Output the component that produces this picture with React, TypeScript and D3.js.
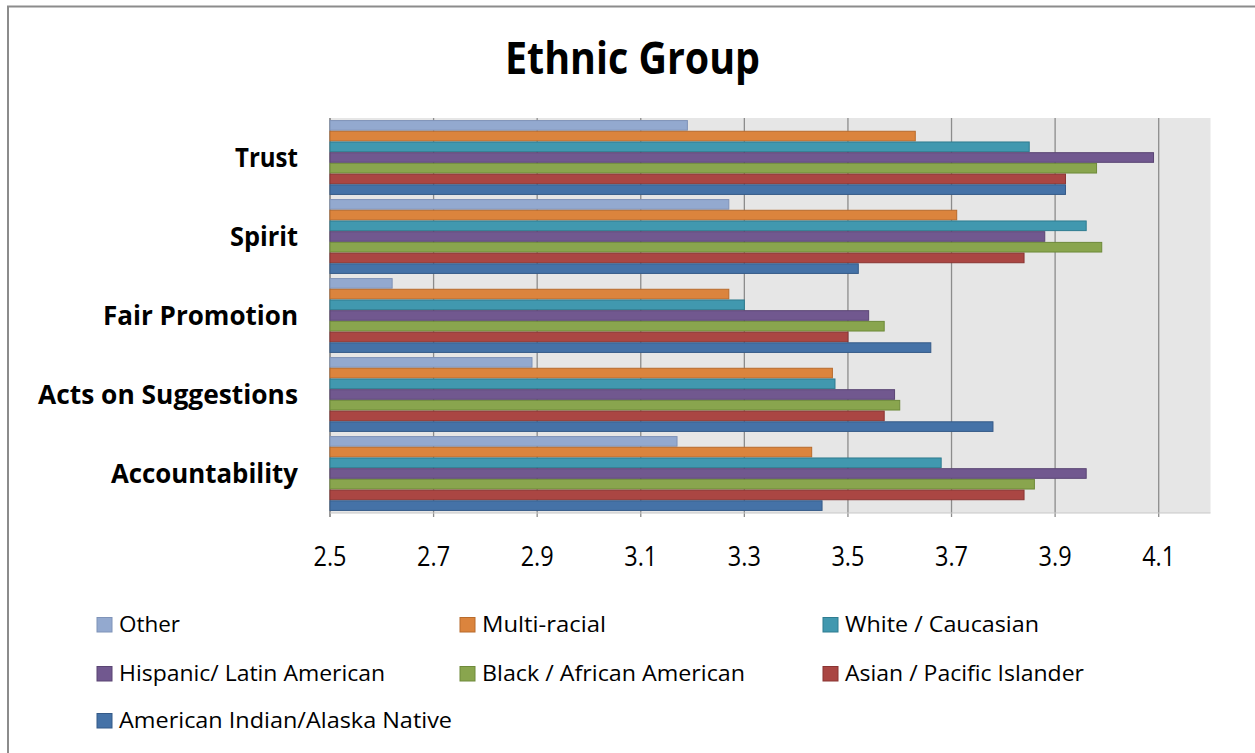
import React from "react";
import * as d3 from "d3";

// Survey scores by ethnic group, one list per group, in category order
const categories = ["Trust", "Spirit", "Fair Promotion", "Acts on Suggestions", "Accountability"];
const seriesNames = [
  "Other",
  "Multi-racial",
  "White / Caucasian",
  "Hispanic/ Latin American",
  "Black / African American",
  "Asian / Pacific Islander",
  "American Indian/Alaska Native",
];
const other = [3.19, 3.27, 2.62, 2.89, 3.17];
const multiRacial = [3.63, 3.71, 3.27, 3.47, 3.43];
const white = [3.85, 3.96, 3.3, 3.475, 3.68];
const hispanic = [4.09, 3.88, 3.54, 3.59, 3.96];
const black = [3.98, 3.99, 3.57, 3.6, 3.86];
const asian = [3.92, 3.84, 3.5, 3.57, 3.84];
const americanIndian = [3.92, 3.52, 3.66, 3.78, 3.45];
const seriesValues = [other, multiRacial, white, hispanic, black, asian, americanIndian];
const xTicks = [2.5, 2.7, 2.9, 3.1, 3.3, 3.5, 3.7, 3.9, 4.1];

const fills = ["#93A9CF", "#DB843D", "#4198AF", "#71588F", "#89A54E", "#AA4643", "#4572A7"];
const strokes = ["#7f93b8", "#b86b2c", "#2f7c90", "#5a4573", "#6e8a3a", "#8a3432", "#355a88"];

// label widths keep the narrow look of the original typeface
const catLabelWidths = [63, 68, 195, 260, 187];
const legendWidths = [61, 124, 194, 266, 263, 239, 333];

const FONT = "'Open Sans', 'Noto Sans', sans-serif";

export default function App() {
  const W = 1255;
  const H = 753;
  const plot = { left: 330, right: 1210.5, top: 118, bottom: 513 };

  const x = d3.scaleLinear().domain([2.5, 4.2]).range([plot.left, plot.right]);
  const y0 = d3
    .scaleBand<string>()
    .domain(categories)
    .range([plot.top, plot.bottom])
    .paddingInner(0.065)
    .paddingOuter(0.0325);
  const y1 = d3
    .scaleBand<string>()
    .domain(seriesNames)
    .range([0, y0.bandwidth()])
    .paddingInner(0.1);

  const legendCols = [97, 460, 823];
  const legendRows = [632, 681, 728];

  return (
    <svg
      width={W}
      height={H}
      style={{ position: "absolute", left: 0, top: 0, background: "#fff" }}
    >
      {/* chart frame */}
      <rect x={8} y={6.5} width={W + 20} height={H + 20} fill="#fff" stroke="#8c8c8c" strokeWidth={2} />

      {/* title */}
      <text
        x={632.5}
        y={74}
        textAnchor="middle"
        fontFamily={FONT}
        fontWeight={700}
        fontSize={44}
        textLength={255}
        lengthAdjust="spacingAndGlyphs"
        fill="#000"
      >
        Ethnic Group
      </text>

      {/* plot background */}
      <rect
        x={plot.left}
        y={plot.top}
        width={plot.right - plot.left}
        height={plot.bottom - plot.top}
        fill="#e6e6e6"
      />

      {/* vertical gridlines with tick marks */}
      {xTicks.map((t) => (
        <line
          key={"g" + t}
          x1={x(t)}
          x2={x(t)}
          y1={plot.top}
          y2={plot.bottom + 4}
          stroke="#8c8c8c"
          strokeWidth={1.3}
        />
      ))}
      <line x1={plot.left} x2={plot.left} y1={plot.top} y2={plot.bottom + 4} stroke="#8c8c8c" strokeWidth={1.3} />
      <line x1={plot.left} x2={plot.right} y1={plot.bottom} y2={plot.bottom} stroke="#c8c8c8" strokeWidth={1} />

      {/* bars */}
      {categories.map((c, ci) => (
        <g key={c} transform={`translate(0,${y0(c)})`}>
          {seriesNames.map((s, si) => (
            <rect
              key={s}
              x={x(2.5)}
              y={y1(s)}
              width={x(seriesValues[si][ci]) - x(2.5)}
              height={y1.bandwidth()}
              fill={fills[si]}
              stroke={strokes[si]}
              strokeWidth={1}
            />
          ))}
        </g>
      ))}

      {/* category labels */}
      {categories.map((c, ci) => (
        <text
          key={"c" + c}
          x={298}
          y={(y0(c) as number) + y0.bandwidth() / 2 + 9.5}
          textAnchor="end"
          fontFamily={FONT}
          fontWeight={700}
          fontSize={26}
          textLength={catLabelWidths[ci]}
          lengthAdjust="spacingAndGlyphs"
          fill="#000"
        >
          {c}
        </text>
      ))}

      {/* x tick labels */}
      {xTicks.map((t) => (
        <text
          key={"t" + t}
          x={x(t)}
          y={566}
          textAnchor="middle"
          fontFamily={FONT}
          fontSize={27}
          textLength={33}
          lengthAdjust="spacingAndGlyphs"
          fill="#000"
        >
          {d3.format(".1f")(t)}
        </text>
      ))}

      {/* legend */}
      {seriesNames.map((s, si) => {
        const lx = legendCols[si % 3];
        const ly = legendRows[Math.floor(si / 3)];
        return (
          <g key={"l" + s}>
            <rect x={lx} y={ly - 14.5} width={15} height={14.5} fill={fills[si]} stroke={strokes[si]} strokeWidth={1} />
            <text
              x={lx + 22}
              y={ly}
              fontFamily={FONT}
              fontSize={22}
              textLength={legendWidths[si]}
              lengthAdjust="spacingAndGlyphs"
              fill="#000"
            >
              {s}
            </text>
          </g>
        );
      })}
    </svg>
  );
}
